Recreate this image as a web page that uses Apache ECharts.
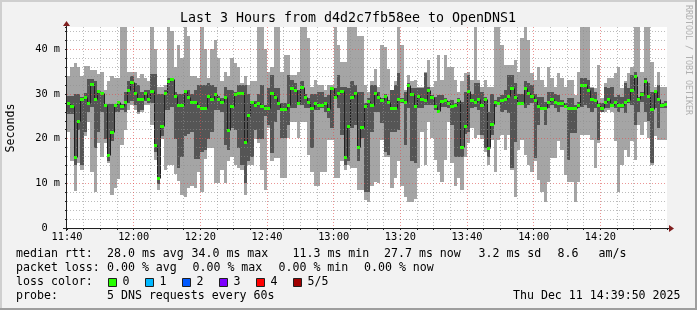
<!DOCTYPE html>
<html><head><meta charset="utf-8">
<script src="https://cdn.jsdelivr.net/npm/echarts@6/dist/echarts.min.js"></script>
<style>html,body{margin:0;padding:0;background:#f2f2f2}#c{width:697px;height:310px}</style>
</head><body><div id="c"></div>
<script>
// minutes since 11:40, one sample per minute (5 DNS pings sorted: min, 2nd, median, 4th, max) in ms
const minRtt = [
21.5,15.0,8.3,14.5,13.0,20.5,23.8,12.5,8.0,19.0,
16.0,19.0,14.5,7.5,9.0,11.0,18.5,22.0,26.5,27.5,
26.5,25.5,26.0,27.5,27.5,23.0,15.2,8.5,20.0,12.9,
14.0,14.0,12.0,10.5,7.5,7.0,9.0,9.5,9.0,12.5,
8.0,15.5,18.0,18.0,10.0,10.0,13.0,10.0,15.0,16.0,
14.0,13.5,13.0,7.5,14.0,14.0,20.0,19.0,13.0,8.5,
22.3,14.9,15.6,15.6,11.1,11.1,20.1,23.8,23.8,20.1,
23.8,23.8,16.3,12.6,9.3,9.3,12.6,12.6,19.7,19.7,
11.1,11.1,14.9,13.0,14.0,13.4,13.4,8.5,8.5,6.3,
5.9,9.3,10.4,10.0,19.7,16.0,16.0,8.9,11.1,14.9,
9.3,7.0,5.9,5.9,6.6,13.4,21.6,14.1,23.8,20.1,
15.2,12.6,10.4,15.2,23.8,14.5,9.3,11.1,8.5,16.0,
19.0,22.3,20.1,20.8,20.0,17.0,14.1,19.7,12.6,19.7,
20.8,17.5,20.8,13.0,7.0,17.5,19.7,16.3,14.1,12.6,
15.0,10.7,8.1,5.9,10.4,15.6,15.6,19.4,17.5,11.9,
10.4,10.4,5.9,10.4,20.8,20.8,20.8,19.7,13.4,19.0,
26.0,26.0,26.4,26.0,19.4,8.1,14.1,17.5,16.0,19.4,
15.2,23.1,20.8,23.8,20.1,14.1,20.5,19.7,19.7,19.7];
const lowRtt = [
25.5,25.5,14.0,22.0,14.0,21.5,26.0,27.0,18.0,21.5,
26.0,20.0,15.0,19.5,26.0,26.0,26.5,26.0,28.0,28.5,
27.5,26.0,26.5,28.5,28.0,28.0,17.0,9.8,20.5,26.5,
26.5,27.0,20.0,13.5,16.0,20.5,21.0,21.5,15.5,15.5,
17.0,17.5,20.0,21.5,26.5,26.5,26.0,18.5,17.5,22.5,
22.0,18.0,14.0,10.0,15.0,16.0,22.0,20.0,20.0,25.0,
23.1,16.7,23.8,26.4,20.1,20.1,23.1,26.8,26.8,27.5,
27.5,26.8,26.8,17.8,26.4,26.4,26.8,26.0,24.6,22.3,
29.0,26.8,20.8,14.1,14.9,22.3,23.1,14.9,20.1,8.1,
8.1,21.6,26.0,26.0,23.4,17.1,16.3,21.6,21.6,21.9,
28.0,18.6,26.8,14.9,14.5,26.8,26.8,27.5,27.5,27.5,
26.4,26.0,27.2,27.2,26.8,23.1,16.0,16.0,16.0,21.0,
21.6,26.8,27.2,26.4,20.8,17.8,16.0,20.8,27.2,27.5,
26.0,26.4,25.7,13.4,19.3,27.5,27.5,26.8,27.5,27.9,
15.6,23.1,26.8,23.1,26.8,27.5,26.8,26.0,27.2,26.8,
15.2,21.2,21.2,26.8,27.2,27.5,26.8,26.0,26.8,19.7,
26.0,26.8,26.8,27.5,26.8,26.0,26.8,25.7,27.9,27.5,
23.1,26.0,28.3,26.0,24.0,14.5,26.8,22.3,26.8,26.8];
const medianRtt = [
28.0,27.4,15.8,24.0,28.9,29.4,28.0,32.3,28.9,30.7,
30.2,27.5,16.3,21.6,27.5,28.1,27.4,28.3,31.0,32.7,
30.2,28.9,28.9,30.2,28.9,30.7,18.6,11.3,22.9,30.2,
33.0,33.4,29.6,27.5,27.5,30.7,29.4,28.1,28.1,27.4,
26.9,26.9,29.6,28.9,30.1,28.9,28.1,29.4,21.9,27.4,
30.1,30.2,30.2,19.3,25.3,28.2,27.5,28.0,27.4,26.9,
26.9,30.2,29.4,28.0,26.6,26.6,27.5,31.4,31.0,28.0,
31.6,29.4,28.2,26.9,28.0,27.5,27.5,28.0,26.6,31.4,
29.4,30.2,30.7,15.9,22.9,29.4,30.2,18.1,22.6,27.4,
28.4,27.5,30.2,29.4,28.7,29.6,28.1,26.9,26.9,28.9,
28.6,28.1,32.0,30.1,27.4,29.6,28.9,28.7,31.0,29.4,
27.4,26.2,28.4,28.7,28.0,27.4,27.5,28.7,18.1,22.9,
30.7,28.7,28.1,28.9,27.5,28.9,17.8,23.2,28.3,28.0,
28.7,28.9,29.6,31.4,29.4,28.0,28.0,31.4,30.2,29.6,
28.7,27.4,26.9,26.9,28.3,28.9,28.3,28.0,28.0,27.4,
26.9,26.9,26.9,27.5,32.0,32.0,30.9,28.9,28.7,27.5,
26.9,28.3,28.9,27.5,28.3,27.5,27.5,28.1,28.7,31.0,
34.0,28.9,30.1,32.8,29.6,26.6,30.7,28.9,27.5,27.7];
const highRtt = [
29.5,29.5,30.0,30.0,29.4,30.2,33.4,33.4,33.0,31.0,
30.5,27.8,27.8,27.8,27.8,28.5,27.8,30.5,33.0,34.0,
32.5,32.0,30.5,30.8,30.8,34.4,34.4,30.0,30.0,30.8,
33.5,33.5,30.5,30.0,30.0,31.0,31.0,30.0,31.0,32.0,
32.0,32.0,32.5,32.0,31.5,29.5,29.0,31.5,31.0,31.0,
30.5,32.0,32.0,32.0,30.0,28.5,28.5,30.0,32.0,27.5,
31.3,34.3,31.3,31.3,27.9,27.9,34.3,33.1,32.4,30.9,
32.8,30.1,29.0,30.1,30.1,30.5,30.5,29.4,29.8,31.6,
31.3,34.3,31.6,31.6,31.3,32.8,32.0,30.5,30.5,27.9,
29.0,32.0,32.0,30.5,29.0,30.0,28.7,30.9,32.0,34.6,
29.0,30.5,32.4,31.3,31.3,31.3,31.3,34.6,31.6,29.8,
29.4,29.8,29.8,29.0,28.5,28.7,27.9,29.0,28.3,30.5,
34.3,30.1,32.4,32.4,30.5,29.4,26.0,30.1,28.7,29.4,
29.8,31.0,34.3,34.3,32.4,30.1,30.1,32.8,32.4,32.0,
30.1,29.4,29.4,28.3,30.5,30.5,30.1,29.8,28.7,27.9,
29.0,29.0,27.5,28.3,33.5,33.5,33.1,31.3,30.5,27.9,
27.9,31.6,31.3,31.6,29.4,29.8,29.4,32.4,31.3,34.3,
35.0,29.4,30.5,33.5,32.4,30.5,30.9,32.0,28.0,28.5];
const maxRtt = [
34.0,36.0,37.0,36.0,34.0,36.3,36.3,35.3,35.3,34.5,
35.0,31.0,33.0,34.0,33.5,33.5,46,46,35.0,35.0,
35.0,33.5,34.5,33.5,33.0,46,40.0,31.5,31.5,32.0,
46,44,36.0,41.0,38.0,46,43.0,34.0,34.0,33.5,
46,40.0,33.5,40.0,42.0,38.0,33.0,35.0,34.0,38.0,
37.0,36.0,32.5,34.0,32.0,33.0,33.0,46,46,40.0,
35.0,36.0,46,46,35.0,38.7,38.7,34.3,34.3,35.0,
46,46,42.5,31.6,33.1,32.0,32.0,30.9,32.0,32.0,
46,41.0,37.2,37.2,46,46,46,43.0,43.0,32.0,
30.5,33.0,35.7,31.6,41.0,40.6,35.7,31.0,33.0,46,
41.0,31.0,34.3,32.8,33.1,31.6,31.6,35.0,37.6,31.6,
32.8,38.7,33.1,38.7,36.1,36.1,33.1,30.5,32.8,34.6,
35.0,33.1,46,33.1,31.6,33.1,31.6,31.6,46,46,
41.0,36.5,36.5,36.5,37.6,35.0,42.5,46,42.0,34.6,
33.1,36.1,33.1,31.6,36.1,33.5,31.6,34.6,33.5,31.6,
33.1,33.1,29.8,35.0,46,46,46,31.6,31.3,36.5,
29.0,32.4,33.5,33.5,34.6,36.1,31.3,33.0,34.6,36.1,
46,46,35.0,46,46,37.2,31.6,35.0,31.6,31.6];

const timeLabels = ['11:40','12:00','12:20','12:40','13:00','13:20','13:40','14:00','14:20','14:40'];
const yTickLabels = ['0\u00a0\u00a0','10 m','20 m','30 m','40 m'];
const lossColors = ['#26ff00','#00b8ff','#0059ff','#7e00ff','#ff0000','#a00000'];
const lossLabels = ['0','1','2','3','4','5/5'];

const rows = medianRtt.map((m, i) => [i, minRtt[i], lowRtt[i], m, highRtt[i], maxRtt[i],
  i + 1 < medianRtt.length ? medianRtt[i + 1] : null]);

const LIGHT = '#a5a5a5', DARK = '#555555', MED = '#26ff00';
const MONO = 'DejaVu Sans Mono';

function span(api, i) {
  return [Math.round(api.coord([i, 0])[0]), Math.round(api.coord([i + 1, 0])[0])];
}
function yOf(api, i, v, top) {
  return Math.max(Math.round(api.coord([i, v])[1]), top);
}
function renderSmoke(params, api) {
  const i = api.value(0), top = Math.round(params.coordSys.y);
  const [xa, xb] = span(api, i);
  const y1 = yOf(api, i, api.value(1), top), y2 = yOf(api, i, api.value(2), top);
  const y4 = yOf(api, i, api.value(4), top), y5 = yOf(api, i, api.value(5), top);
  return {type: 'group', children: [
    {type: 'rect', shape: {x: xa, y: y5, width: xb - xa, height: y1 - y5}, style: {fill: LIGHT}},
    {type: 'rect', shape: {x: xa, y: y4, width: xb - xa, height: y2 - y4}, style: {fill: DARK}}
  ]};
}
function renderStep(params, api) {
  const i = api.value(0);
  const [xa, xb] = span(api, i);
  const ym = Math.round(api.coord([i, api.value(3)])[1]) + 0.5;
  const ch = [{type: 'line', shape: {x1: xa, y1: ym, x2: xb, y2: ym}, style: {stroke: '#202020', lineWidth: 1}}];
  const nx = api.value(6);
  if (!isNaN(nx)) {
    const yn = Math.round(api.coord([i, nx])[1]) + 0.5;
    ch.push({type: 'line', shape: {x1: xb + 0.5, y1: ym, x2: xb + 0.5, y2: yn}, style: {stroke: '#202020', lineWidth: 1}});
  }
  return {type: 'group', children: ch};
}
function renderMedian(params, api) {
  const i = api.value(0);
  const [xa, xb] = span(api, i);
  const ym = Math.round(api.coord([i, api.value(3)])[1]);
  return {type: 'rect', shape: {x: xa, y: ym - 1, width: xb - xa, height: 3}, style: {fill: MED}};
}

const txt = (x, y, s, opt) => Object.assign({type: 'text', x: x, y: y, z: 10,
  style: Object.assign({text: s, fill: '#000', font: '11.6px ' + MONO, textVerticalAlign: 'middle', verticalAlign: 'middle'}, opt || {})});

const graphics = [
  // 3D frame
  {type: 'rect', z: 10, shape: {x: 0, y: 0, width: 697, height: 2}, style: {fill: '#cfcfcf'}},
  {type: 'rect', z: 10, shape: {x: 0, y: 0, width: 2, height: 310}, style: {fill: '#cfcfcf'}},
  {type: 'rect', z: 10, shape: {x: 0, y: 308, width: 697, height: 2}, style: {fill: '#9e9e9e'}},
  {type: 'rect', z: 10, shape: {x: 695, y: 0, width: 2, height: 310}, style: {fill: '#9e9e9e'}},
  // axes with arrows
  {type: 'line', z: 50, shape: {x1: 63, y1: 228.5, x2: 670, y2: 228.5}, style: {stroke: '#1f1f1f', lineWidth: 1}},
  {type: 'polygon', z: 50, shape: {points: [[669, 225], [674, 228.5], [669, 232]]}, style: {fill: '#801f1f'}},
  {type: 'line', z: 50, shape: {x1: 66.5, y1: 231, x2: 66.5, y2: 25}, style: {stroke: '#1f1f1f', lineWidth: 1}},
  {type: 'polygon', z: 50, shape: {points: [[63, 26], [66.5, 21], [70, 26]]}, style: {fill: '#801f1f'}},
  // title and side texts
  txt(348, 19, 'Last 3 Hours from d4d2c7fb58ee to OpenDNS1', {font: '13.3px ' + MONO, align: 'center', textAlign: 'center'}),
  Object.assign(txt(10.5, 128, 'Seconds', {align: 'center', textAlign: 'center'}), {rotation: Math.PI / 2}),
  Object.assign(txt(688.5, 60, 'RRDTOOL / TOBI OETIKER', {align: 'center', textAlign: 'center', font: '8.3px ' + MONO, fill: '#b0b0b0'}), {rotation: -Math.PI / 2}),
  // legend rows
  txt(16, 254, 'median rtt:'),
  txt(107, 254, '28.0 ms avg'),
  txt(191.5, 254, '34.0 ms max'),
  txt(292.5, 254, '11.3 ms min'),
  txt(384, 254, '27.7 ms now'),
  txt(478.5, 254, '3.2 ms sd'),
  txt(557.5, 254, '8.6'),
  txt(598.5, 254, 'am/s'),
  txt(16, 268, 'packet loss:'),
  txt(107, 268, '0.00 % avg'),
  txt(192.5, 268, '0.00 % max'),
  txt(278.5, 268, '0.00 % min'),
  txt(364, 268, '0.00 % now'),
  txt(16, 282, 'loss color:'),
  txt(16, 296, 'probe:'),
  txt(107, 296, '5 DNS requests every 60s'),
  txt(680.5, 296, 'Thu Dec 11 14:39:50 2025', {align: 'right', textAlign: 'right'})
];
const boxX = [108, 145, 182, 219, 256, 293];
lossColors.forEach((c, k) => {
  graphics.push({type: 'rect', z: 10, shape: {x: boxX[k] + 0.5, y: 278.5, width: 8, height: 8}, style: {fill: c, stroke: '#1f1f1f', lineWidth: 1}});
  graphics.push(txt(boxX[k] + 14.5, 282, lossLabels[k]));
});

const chart = echarts.init(document.getElementById('c'), null, {renderer: 'canvas'});
chart.setOption({
  animation: false,
  backgroundColor: '#f2f2f2',
  grid: {left: 67, right: 30, top: 27, bottom: 82, show: true, backgroundColor: '#ffffff', borderWidth: 0},
  xAxis: {
    type: 'value', min: 0, max: 180, interval: 20, z: 5,
    axisLine: {show: false},
    axisTick: {show: true, length: 2, lineStyle: {color: '#1f1f1f'}},
    minorTick: {show: true, splitNumber: 4, length: 2, lineStyle: {color: '#1f1f1f'}},
    axisLabel: {margin: 4, color: '#000', fontFamily: MONO, fontSize: 10.3, showMaxLabel: false,
      formatter: v => timeLabels[Math.round(v / 20)]},
    splitLine: {show: true, showMinLine: false, showMaxLine: false, lineStyle: {color: 'rgba(222,79,79,0.6)', type: [1, 2], width: 1}},
    minorSplitLine: {show: true, lineStyle: {color: 'rgba(143,143,143,0.6)', type: [1, 2], width: 1}}
  },
  yAxis: {
    type: 'value', min: 0, max: 45, interval: 10, z: 5,
    axisLine: {show: false},
    axisTick: {show: true, length: 2, lineStyle: {color: '#1f1f1f'}},
    minorTick: {show: true, splitNumber: 5, length: 2, lineStyle: {color: '#1f1f1f'}},
    axisLabel: {margin: 7, color: '#000', fontFamily: MONO, fontSize: 10.3, showMaxLabel: false,
      formatter: v => yTickLabels[Math.round(v / 10)] || ''},
    splitLine: {show: true, showMinLine: false, showMaxLine: false, lineStyle: {color: 'rgba(222,79,79,0.6)', type: [1, 2], width: 1}},
    minorSplitLine: {show: true, lineStyle: {color: 'rgba(143,143,143,0.6)', type: [1, 2], width: 1}}
  },
  series: [
    {type: 'custom', name: 'smoke', data: rows, renderItem: renderSmoke, clip: true, z: 2, encode: {x: 0, y: 3}, silent: true},
    {type: 'custom', name: 'median line', data: rows, renderItem: renderStep, clip: true, z: 3, encode: {x: 0, y: 3}, silent: true},
    {type: 'custom', name: 'median', data: rows, renderItem: renderMedian, clip: true, z: 4, encode: {x: 0, y: 3}, silent: true}
  ],
  graphic: graphics
});
</script></body></html>
